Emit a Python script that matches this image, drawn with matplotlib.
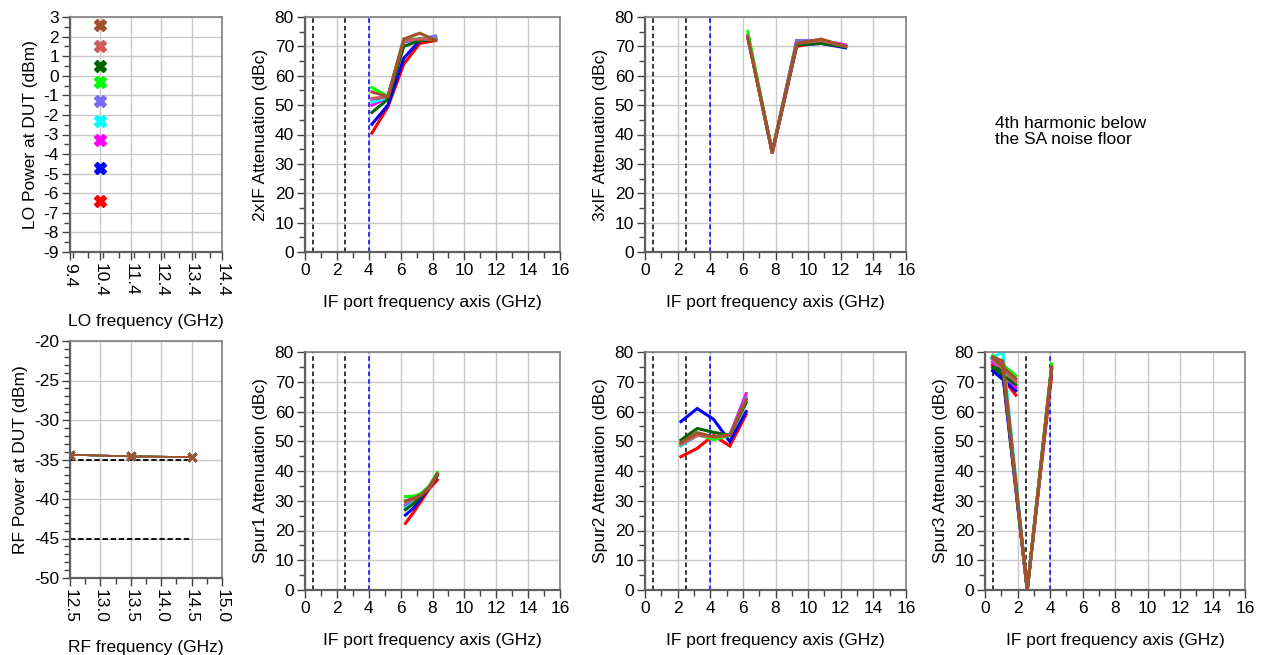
import numpy as np
import matplotlib
matplotlib.use('Agg')
import matplotlib.pyplot as plt
from matplotlib.ticker import MultipleLocator

plt.rcParams['font.family'] = ['Liberation Sans', 'DejaVu Sans']
plt.rcParams['font.size'] = 12.5
plt.rcParams['axes.unicode_minus'] = False

# colour per LO drive level (plotting order, brown ends on top)
colors = ['#ff0000', '#0000ff', '#ff00ff', '#00ffff', '#7b6cf0',
          '#00ff00', '#006400', '#cd5c5c', '#a0522d']
lo_freq = 10.4
lo_power = [-6.4, -4.7, -3.3, -2.3, -1.3, -0.3, 0.5, 1.5, 2.6]

rf_freq = [12.5, 13.5, 14.5]
rf_power = [-34.4, -34.6, -34.7]
rf_limits = [-35, -45]

# IF axis positions of each product (RF sweep order)
x_2if = [4.2, 5.2, 6.2, 7.2, 8.2]
x_3if = [6.3, 7.8, 9.3, 10.8, 12.3]
x_spur1 = [6.3, 6.8, 7.3, 7.8, 8.3]
x_spur2 = [2.2, 3.2, 4.2, 5.2, 6.2]
x_spur3 = [4.1, 2.6, 1.1, 0.4, 1.9]

att_2if = [
    [40.5, 49.4, 64.0, 71.0, 72.0],
    [43.5, 50.0, 66.0, 72.0, 72.5],
    [50.0, 52.5, 71.5, 72.5, 73.0],
    [51.0, 52.5, 71.5, 72.5, 73.5],
    [52.0, 52.8, 71.5, 72.5, 73.5],
    [56.0, 53.0, 72.5, 72.5, 72.5],
    [47.5, 52.0, 70.0, 72.0, 72.3],
    [52.3, 52.9, 72.0, 72.5, 72.3],
    [54.5, 52.9, 72.5, 74.5, 72.0],
]
att_3if = [
    [73.5, 33.5, 70.0, 71.5, 70.0],
    [73.5, 34.0, 70.5, 71.0, 69.5],
    [73.5, 34.0, 72.0, 72.0, 70.5],
    [73.5, 34.0, 71.5, 72.0, 70.0],
    [73.5, 34.0, 72.0, 72.0, 70.0],
    [75.0, 34.0, 71.0, 71.5, 70.0],
    [73.0, 34.0, 70.5, 71.0, 69.8],
    [73.5, 34.0, 71.0, 72.0, 70.0],
    [73.0, 34.0, 71.0, 72.5, 70.0],
]
att_spur1 = [
    [22.4, 26.0, 30.0, 34.0, 37.0],
    [25.2, 27.5, 31.0, 34.5, 38.5],
    [28.2, 30.0, 32.0, 34.5, 39.0],
    [27.6, 29.8, 32.0, 34.5, 39.0],
    [28.7, 30.5, 32.0, 34.5, 39.0],
    [31.4, 31.5, 32.5, 35.0, 39.5],
    [27.0, 29.0, 31.5, 34.5, 38.5],
    [29.6, 30.5, 32.0, 34.5, 39.0],
    [30.0, 30.8, 32.0, 34.8, 39.0],
]
att_spur2 = [
    [44.8, 47.6, 52.0, 48.4, 59.0],
    [56.6, 61.0, 57.4, 49.9, 60.0],
    [48.5, 52.0, 51.5, 52.0, 66.0],
    [48.5, 52.0, 51.5, 52.0, 64.0],
    [49.0, 52.0, 51.5, 52.0, 65.0],
    [49.5, 52.5, 50.5, 52.0, 63.0],
    [50.4, 54.3, 53.0, 52.0, 63.0],
    [49.0, 52.0, 51.5, 52.0, 64.0],
    [49.5, 52.9, 51.5, 52.0, 64.0],
]
att_spur3 = [
    [72.0, 0.0, 73.0, 76.0, 65.5],
    [74.0, 0.0, 72.0, 74.0, 67.0],
    [74.5, 0.0, 74.5, 77.0, 68.0],
    [75.0, 0.0, 80.0, 78.0, 69.0],
    [75.0, 0.0, 75.0, 78.0, 70.0],
    [76.0, 0.0, 76.0, 79.0, 72.0],
    [74.5, 0.0, 74.0, 75.0, 69.0],
    [75.0, 0.0, 76.0, 78.0, 70.0],
    [75.0, 0.0, 77.0, 78.5, 71.0],
]
if_marks = [0.5, 2.5]
if_max = 4.0

W, H = 1261, 655
fig = plt.figure(figsize=(W / 100, H / 100), dpi=100)


def make_ax(l, r, t, b):
    return fig.add_axes([l / W, 1 - b / H, (r - l) / W, (b - t) / H])


def style(ax):
    ax.grid(True, which='major', color='#c8c8c8', lw=1.0)
    ax.set_axisbelow(True)
    for s in ax.spines.values():
        s.set_color('#808080')
        s.set_linewidth(1.2)
    for s in ['left', 'bottom']:
        ax.spines[s].set_color('#606060')
        ax.spines[s].set_linewidth(1.6)
    ax.tick_params(which='major', direction='out', length=6, width=1, color='#404040',
                   labelsize=12.5, pad=2)
    ax.tick_params(which='minor', direction='out', length=4, width=1, color='#404040')


def if_panel(ax, xs, data, ylabel):
    style(ax)
    for lim in if_marks:
        ax.axvline(lim, color='black', ls=(0, (3, 2)), lw=1.1)
    ax.axvline(if_max, color='blue', ls=(0, (3, 2)), lw=1.1)
    for c, ys in zip(colors, data):
        ax.plot(xs, ys, color=c, lw=2.2, solid_joinstyle='miter')
    ax.set_xlim(0, 16)
    ax.set_ylim(0, 80)
    ax.xaxis.set_major_locator(MultipleLocator(2))
    ax.xaxis.set_minor_locator(MultipleLocator(1))
    ax.yaxis.set_major_locator(MultipleLocator(10))
    ax.yaxis.set_minor_locator(MultipleLocator(5))
    ax.set_xlabel('IF port frequency axis (GHz)', labelpad=12)
    ax.set_ylabel(ylabel, labelpad=5)


# LO panel
ax = make_ax(70, 222, 17, 252)
style(ax)
for c, p in zip(colors, lo_power):
    ax.plot([lo_freq], [p], marker='X', ms=9, color=c, mec=c, ls='none')
ax.set_xlim(9.4, 14.4)
ax.set_ylim(-9, 3)
ax.set_xticks(np.arange(9.4, 14.5, 1.0))
ax.set_xticklabels(['9.4', '10.4', '11.4', '12.4', '13.4', '14.4'], rotation=-90)
ax.xaxis.set_minor_locator(MultipleLocator(0.5))
ax.yaxis.set_major_locator(MultipleLocator(1))
ax.yaxis.set_minor_locator(MultipleLocator(0.5))
ax.set_xlabel('LO frequency (GHz)', labelpad=12)
ax.set_ylabel('LO Power at DUT (dBm)', labelpad=4)

# RF panel
ax = make_ax(70, 222, 341, 578)
style(ax)
for lim in rf_limits:
    ax.plot([rf_freq[0], rf_freq[-1]], [lim, lim], color='black', ls=(0, (3, 1.5)), lw=1.3)
for c in colors:
    ax.plot(rf_freq, rf_power, color=c, lw=1.2, marker='x', ms=6, mew=1.8)
ax.set_xlim(12.5, 15.0)
ax.set_ylim(-50, -20)
ax.set_xticks(np.arange(12.5, 15.01, 0.5))
ax.set_xticklabels(['12.5', '13.0', '13.5', '14.0', '14.5', '15.0'], rotation=-90)
ax.xaxis.set_minor_locator(MultipleLocator(0.25))
ax.yaxis.set_major_locator(MultipleLocator(5))
ax.yaxis.set_minor_locator(MultipleLocator(1))
ax.set_xlabel('RF frequency (GHz)', labelpad=12)
ax.set_ylabel('RF Power at DUT (dBm)', labelpad=4)

if_panel(make_ax(305, 560, 17, 252), x_2if, att_2if, '2xIF Attenuation (dBc)')
if_panel(make_ax(645, 906, 17, 252), x_3if, att_3if, '3xIF Attenuation (dBc)')
if_panel(make_ax(305, 560, 352, 590), x_spur1, att_spur1, 'Spur1 Attenuation (dBc)')
if_panel(make_ax(645, 906, 352, 590), x_spur2, att_spur2, 'Spur2 Attenuation (dBc)')
if_panel(make_ax(985, 1245, 352, 590), x_spur3, att_spur3, 'Spur3 Attenuation (dBc)')

fig.text(995 / W, 1 - 116 / H, '4th harmonic below\nthe SA noise floor',
         ha='left', va='top', fontsize=12.5, linespacing=1.1)

fig.savefig('out.png', dpi=100)
